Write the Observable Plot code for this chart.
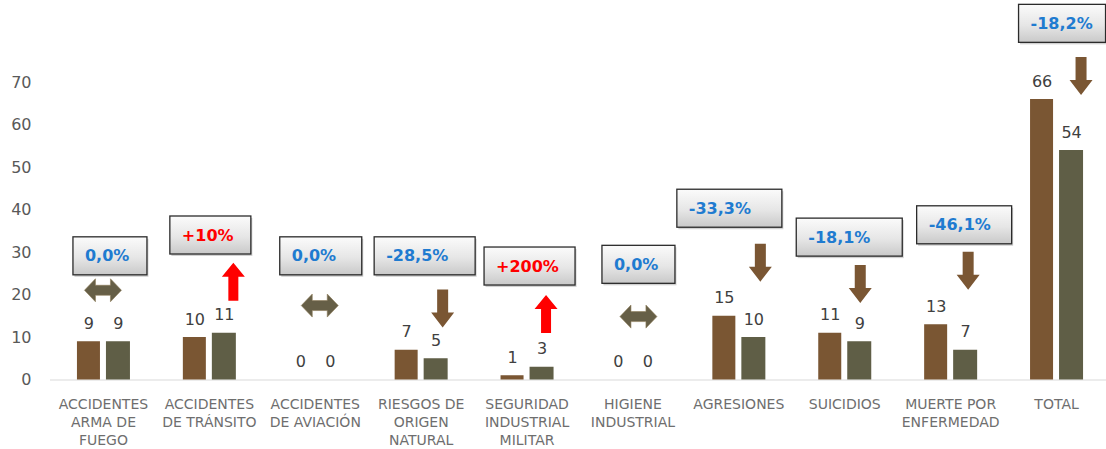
<!DOCTYPE html>
<html>
<head>
<meta charset="utf-8">
<script src="https://cdn.jsdelivr.net/npm/d3@7"></script>
<script src="https://cdn.jsdelivr.net/npm/@observablehq/plot@0.6"></script>
<style>
  html, body { margin: 0; padding: 0; background: #ffffff; }
  #chart { width: 1106px; height: 449px; }
</style>
</head>
<body>
<div id="chart"></div>
<script>
// ---------- DATA ----------
const categories = [
  "ACCIDENTES\nARMA DE\nFUEGO",
  "ACCIDENTES\nDE TRÁNSITO",
  "ACCIDENTES\nDE AVIACIÓN",
  "RIESGOS DE\nORIGEN\nNATURAL",
  "SEGURIDAD\nINDUSTRIAL\nMILITAR",
  "HIGIENE\nINDUSTRIAL",
  "AGRESIONES",
  "SUICIDIOS",
  "MUERTE POR\nENFERMEDAD",
  "TOTAL"
];
const previousValues = [9, 10, 0, 7, 1, 0, 15, 11, 13, 66];
const currentValues  = [9, 11, 0, 5, 3, 0, 10, 9, 7, 54];
const changeLabels   = ["0,0%", "+10%", "0,0%", "-28,5%", "+200%", "0,0%", "-33,3%", "-18,1%", "-46,1%", "-18,2%"];
const yTicks = [0, 10, 20, 30, 40, 50, 60, 70];

// ---------- ANNOTATION LAYOUT (y in data units, offsets in px) ----------
const boxY    = [29.1, 34.0, 29.1, 29.1, 26.7, 27.1, 40.3, 33.5, 36.4, 83.8];
const boxDx   = [7, 1.5, 6, 4, 3, 6, -9, 5, 14, 6];
const boxW    = [74, 81, 82, 101, 91, 73, 105, 106, 95, 87];
const arrowY  = [21.0, 23.0, 17.4, 16.7, 15.4, 14.8, 27.5, 22.5, 25.6, 71.4];
const arrowDx = [0, 24.5, 5, 22, 19.5, 6, 22, 16, 18, 25];

const BROWN = "#7A5633";
const OLIVE = "#5F5E46";

const prevData = categories.map((c, i) => ({cat: c, v: previousValues[i]}));
const currData = categories.map((c, i) => ({cat: c, v: currentValues[i]}));

const chart = Plot.plot({
  width: 1106,
  height: 449,
  marginLeft: 50,
  marginRight: 0,
  marginTop: 39.5,
  marginBottom: 69.5,
  style: {fontFamily: "DejaVu Sans", background: "#ffffff", overflow: "visible"},
  x: {domain: categories, range: [50, 1109], padding: 0, round: false},
  y: {domain: [0, 80]},
  marks: [
    Plot.ruleY([0], {stroke: "#d9d9d9", strokeWidth: 1.2}),
    Plot.barY(prevData, {x: "cat", y: "v", fill: BROWN, insetLeft: 26.95, insetRight: 55.95}),
    Plot.barY(currData, {x: "cat", y: "v", fill: OLIVE, insetLeft: 55.95, insetRight: 25.95}),
    Plot.text(prevData, {x: "cat", y: "v", text: d => String(d.v), dx: -14.5, dy: -18, fontSize: 16, fill: "#404040"}),
    Plot.text(currData, {x: "cat", y: "v", text: d => String(d.v), dx: 15, dy: -18, fontSize: 16, fill: "#404040"}),
    Plot.axisY({ticks: yTicks, tickSize: 0, tickPadding: 19, fontSize: 16, color: "#595959", label: null}),
    Plot.axisX({tickSize: 0, tickPadding: 16, fontSize: 14, lineHeight: 1.29, color: "#6e6e6e", label: null})
  ]
});

document.getElementById("chart").appendChild(chart);

// ---------- ANNOTATIONS (placed through the plot's own scales) ----------
const sx = chart.scale("x");
const sy = chart.scale("y");
const cx = c => sx.apply(c) + sx.bandwidth / 2;

const svg = d3.select(chart);
const defs = svg.append("defs");
const grad = defs.append("linearGradient").attr("id", "boxGrad")
  .attr("x1", 0).attr("y1", 0).attr("x2", 0).attr("y2", 1);
grad.append("stop").attr("offset", "0%").attr("stop-color", "#fbfbfb");
grad.append("stop").attr("offset", "55%").attr("stop-color", "#e6e6e6");
grad.append("stop").attr("offset", "100%").attr("stop-color", "#c9c9c9");

const g = svg.append("g").attr("class", "annotations").attr("text-anchor", "start");

const downArrow = "M-5.5,-19 L5.5,-19 L5.5,4 L11.5,4 L0,19 L-11.5,4 L-5.5,4 Z";
const upArrow   = "M-5,19 L5,19 L5,-5 L11.5,-5 L0,-19 L-11.5,-5 L-5,-5 Z";
const bothArrow = "M-18.5,0 L-7.5,-11.5 L-7.5,-5 L7.5,-5 L7.5,-11.5 L18.5,0 L7.5,11.5 L7.5,5 L-7.5,5 L-7.5,11.5 Z";

categories.forEach((c, i) => {
  const p = previousValues[i], q = currentValues[i];
  const up = q > p, down = q < p;
  const color = up ? "#FF0000" : "#1F7BD0";
  const bx = cx(c) + boxDx[i];
  const by = sy.apply(boxY[i]);
  const w = boxW[i], h = 38;
  g.append("rect").attr("x", bx - w / 2 + 1.5).attr("y", by - h / 2 + 2)
    .attr("width", w).attr("height", h).attr("fill", "#9a9a9a").attr("opacity", 0.45);
  g.append("rect").attr("x", bx - w / 2).attr("y", by - h / 2)
    .attr("width", w).attr("height", h)
    .attr("fill", "url(#boxGrad)").attr("stroke", "#2b2b2b").attr("stroke-width", 1.3);
  g.append("text").attr("x", bx - w / 2 + 12).attr("y", by)
    .attr("text-anchor", "start")
    .attr("dominant-baseline", "central")
    .attr("font-family", "DejaVu Sans").attr("font-weight", "bold").attr("font-size", 16)
    .attr("fill", color).text(changeLabels[i]);

  const ax = cx(c) + arrowDx[i];
  const ay = sy.apply(arrowY[i]);
  if (up) {
    g.append("path").attr("d", upArrow).attr("transform", `translate(${ax},${ay})`).attr("fill", "#FF0000");
  } else if (down) {
    g.append("path").attr("d", downArrow).attr("transform", `translate(${ax},${ay})`).attr("fill", BROWN);
  } else {
    g.append("path").attr("d", bothArrow).attr("transform", `translate(${ax},${ay})`)
      .attr("fill", "#665F47").attr("stroke", "#8c7b58").attr("stroke-width", 1).attr("stroke-opacity", 0.6);
  }
});
</script>
</body>
</html>
